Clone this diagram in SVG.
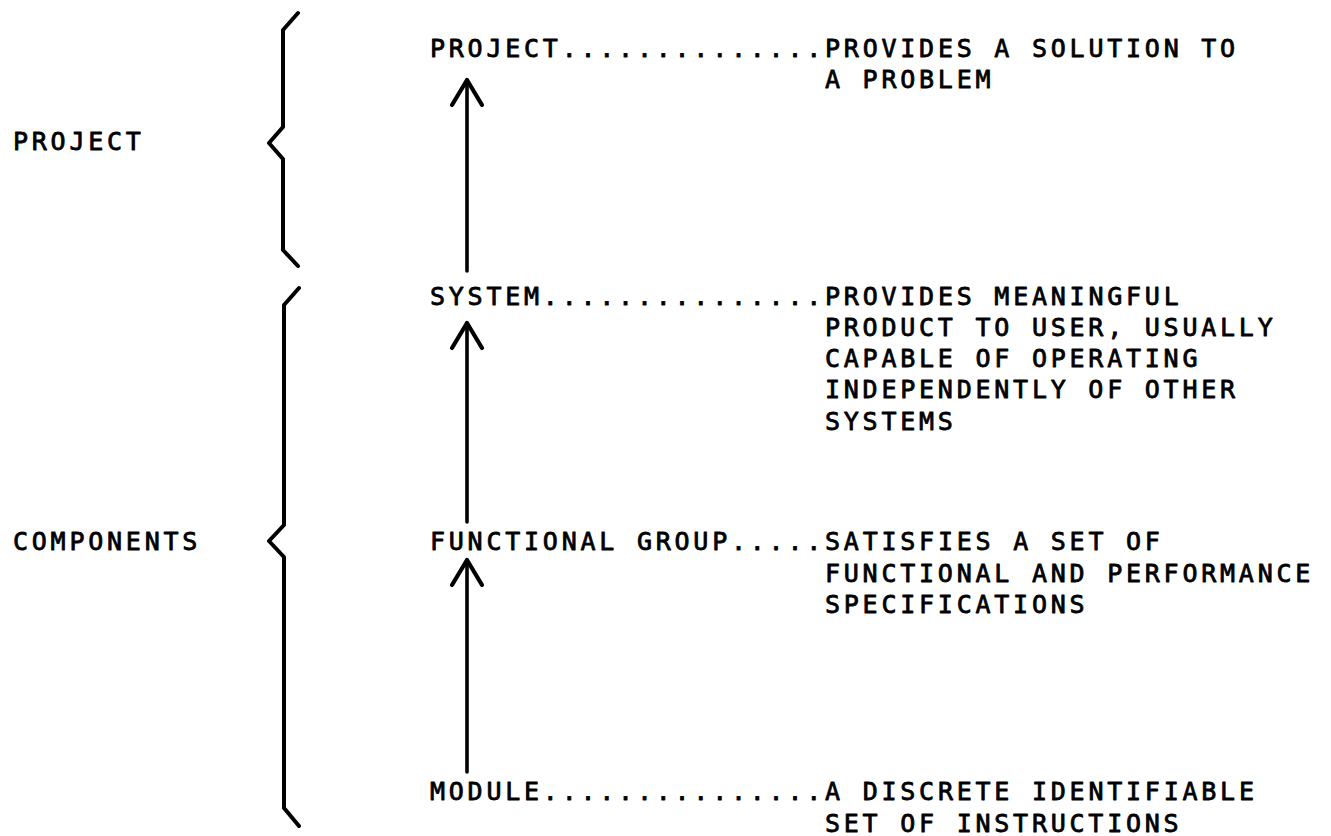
<svg xmlns="http://www.w3.org/2000/svg" width="1331" height="836" viewBox="0 0 1331 836">
<style>
  text { font-family: "DejaVu Sans Mono", "Liberation Mono", monospace; font-size: 25px; letter-spacing: 3.76px; fill: #000; stroke: #000; stroke-width: 0.8px; stroke-linejoin: round; }
  .brace { fill: none; stroke: #000; stroke-width: 4; stroke-linejoin: round; stroke-linecap: round; }
  .shaft { fill: none; stroke: #000; stroke-width: 3.6; stroke-linecap: round; marker-end: url(#ah); }
</style>
<defs>
  <marker id="ah" markerUnits="userSpaceOnUse" viewBox="-30 -20 34 40" markerWidth="34" markerHeight="40" refX="0" refY="0" orient="auto" overflow="visible">
    <path d="M-25,-15 L0,0 L-25,15" fill="none" stroke="#000" stroke-width="4.2" stroke-linecap="round" stroke-linejoin="round"/>
  </marker>
</defs>
<rect width="1331" height="836" fill="#fff"/>

<g id="group-project">
  <path class="brace" d="M298,13 L283,30 L283,127 L269,143 L283,159 L283,250 L298,266"/>
  <text x="13" y="150">PROJECT</text>
</g>

<g id="group-components">
  <path class="brace" d="M299,288 L284,305 L284,525 L269,541 L284,557 L284,808 L299,826"/>
  <text x="13" y="550">COMPONENTS</text>
</g>

<g id="node-project">
  <text x="430" y="57">PROJECT..............PROVIDES A SOLUTION TO</text>
  <text x="825" y="88">A PROBLEM</text>
</g>

<g id="node-system">
  <text x="430" y="305">SYSTEM...............PROVIDES MEANINGFUL</text>
  <text x="825" y="336">PRODUCT TO USER, USUALLY</text>
  <text x="825" y="367">CAPABLE OF OPERATING</text>
  <text x="825" y="398">INDEPENDENTLY OF OTHER</text>
  <text x="825" y="430">SYSTEMS</text>
</g>

<g id="node-functional-group">
  <text x="430" y="550">FUNCTIONAL GROUP.....SATISFIES A SET OF</text>
  <text x="825" y="582">FUNCTIONAL AND PERFORMANCE</text>
  <text x="825" y="613">SPECIFICATIONS</text>
</g>

<g id="node-module">
  <text x="430" y="800">MODULE...............A DISCRETE IDENTIFIABLE</text>
  <text x="825" y="832">SET OF INSTRUCTIONS</text>
</g>

<g id="connectors">
  <line class="shaft" x1="467" y1="271" x2="467" y2="80"/>
  <line class="shaft" x1="467" y1="522" x2="467" y2="323"/>
  <line class="shaft" x1="467" y1="772" x2="467" y2="560"/>
</g>
</svg>
